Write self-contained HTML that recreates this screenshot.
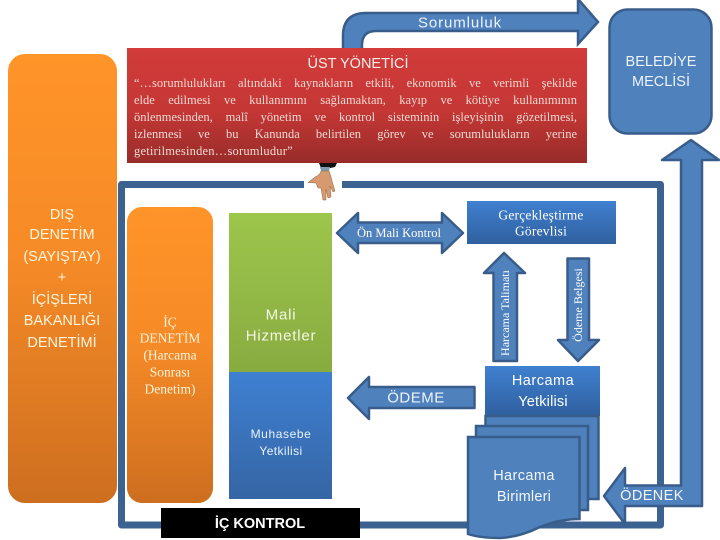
<!DOCTYPE html>
<html><head><meta charset="utf-8">
<style>
html,body{margin:0;padding:0;background:#fff}
#p{position:relative;width:720px;height:540px;overflow:hidden;background:#fff;font-family:"Liberation Sans",sans-serif}
svg{position:absolute;left:0;top:0}
.t{position:absolute;white-space:nowrap;text-align:center;transform:translate(-50%,-50%);color:#fff;line-height:1}
.c{color:#fff4dc}
.s{font-family:"Liberation Serif",serif}
.j{position:absolute;left:134px;width:443px;font-family:"Liberation Serif",serif;font-size:12.5px;line-height:17px;color:#f0d8d2;text-align:justify;text-align-last:justify;white-space:nowrap}
.v{position:absolute;white-space:nowrap;font-family:"Liberation Serif",serif;font-size:12px;color:#fff;line-height:1;transform:translate(-50%,-50%) rotate(-90deg)}
</style></head><body><div id="p">
<svg width="720" height="540" viewBox="0 0 720 540">
<defs>
<linearGradient id="r" x1="0" y1="0" x2="0" y2="1"><stop offset="0" stop-color="#d23b3a"/><stop offset=".55" stop-color="#c43735"/><stop offset="1" stop-color="#982c2a"/></linearGradient>
<linearGradient id="o" x1="0" y1="0" x2="0" y2="1"><stop offset="0" stop-color="#ff9429"/><stop offset=".45" stop-color="#f68b27"/><stop offset="1" stop-color="#cd6e1f"/></linearGradient>
<linearGradient id="g" x1="0" y1="0" x2="0" y2="1"><stop offset="0" stop-color="#9dc64c"/><stop offset="1" stop-color="#88ab40"/></linearGradient>
<linearGradient id="b" x1="0" y1="0" x2="0" y2="1"><stop offset="0" stop-color="#3f80d2"/><stop offset="1" stop-color="#3565a4"/></linearGradient>
<linearGradient id="bb" x1="0" y1="0" x2="0" y2="1"><stop offset="0" stop-color="#3f80d0"/><stop offset="1" stop-color="#30609f"/></linearGradient>
</defs>

<!-- frame -->
<path d="M304 184.500H121.500V525H660.500V184.500H342" fill="none" stroke="#3c6291" stroke-width="7" stroke-linejoin="round"/>

<!-- Sorumluluk bent arrow -->
<path d="M343 50V36Q343 13 366 13H578V-1L598 22L578 44V31H376Q362 31 362 45V50Z" fill="#4f81bd" stroke="#385d8a" stroke-width="2.500"/>

<!-- red box -->
<rect x="127" y="48" width="460" height="115" fill="url(#r)"/>

<!-- Belediye -->
<rect x="609.500" y="9.500" width="102" height="124" rx="18" fill="#4f81bd" stroke="#385d8a" stroke-width="2.500"/>

<!-- orange -->
<rect x="8" y="54" width="109" height="449" rx="17" fill="url(#o)"/>
<rect x="127" y="207" width="86" height="296" rx="15" fill="url(#o)"/>

<!-- green / blue -->
<rect x="229" y="213" width="103" height="160" fill="url(#g)"/>
<rect x="229" y="372" width="103" height="127" fill="url(#b)"/>

<!-- black -->
<rect x="161" y="508" width="199" height="30" fill="#000"/>

<!-- Ön Mali arrow -->
<path d="M337 233L358 213V222.500H442V213L463 233L442 253V243H358V253Z" fill="#4f81bd" stroke="#385d8a" stroke-width="2.500" stroke-linejoin="round"/>

<!-- Gerçekleştirme -->
<rect x="467" y="201" width="149" height="43" fill="url(#bb)"/>

<!-- Harcama Talimatı -->
<path d="M504 253L525 273H517V361H493.500V273H484Z" fill="#4f81bd" stroke="#385d8a" stroke-width="2.500" stroke-linejoin="round"/>
<!-- Ödeme Belgesi -->
<path d="M567.500 258.500H589V340H599L578 361L558 340H567.500Z" fill="#4f81bd" stroke="#385d8a" stroke-width="2.500" stroke-linejoin="round"/>

<!-- ÖDEME arrow -->
<path d="M348 398L369 377V387H474.500V408H369V419Z" fill="#4f81bd" stroke="#385d8a" stroke-width="2.500" stroke-linejoin="round"/>

<!-- Harcama Yetkilisi + docs -->
<rect x="485" y="366" width="115" height="50" fill="url(#bb)"/>
<rect x="485.500" y="416" width="113" height="83" fill="#4f81bd" stroke="#385d8a" stroke-width="2.500"/>
<rect x="476" y="426" width="112" height="84" fill="#4f81bd" stroke="#385d8a" stroke-width="2.500"/>
<path d="M468 437H579.500V519Q560 519 540 527Q520 537 500 538Q480 538 468 534Z" fill="#4f81bd" stroke="#385d8a" stroke-width="2.500"/>

<!-- ÖDENEK / up arrow -->
<path d="M691 140L719 160H702V506H625V524L604 496L625 468V485.500H681V160H662Z" fill="#4f81bd" stroke="#385d8a" stroke-width="2.500" stroke-linejoin="round"/>

<!-- hand -->
<path d="M319 163H337L335 167Q328 169 321 168Z" fill="#111"/>
<path d="M320 167H330L329 171H321Z" fill="#7d9bb0"/>
<path d="M321 171H329Q331 176 332 181L335 191L333 192L330 186L331 197L328 198L326 189L326 200L323 200L321 188L318 188L316 183L308 182.500L315 177Q320 175 321 171Z" fill="#d79a6e" stroke="#8f5f3f" stroke-width=".5"/>
</svg>

<div class="t" style="left:460px;top:23px;font-size:15px;letter-spacing:.9px;color:#eef3fa">Sorumluluk</div>
<div class="t" style="left:358px;top:64px;font-size:14.500px;color:#f7eeea">ÜST YÖNETİCİ</div>

<div class="j" style="top:75px">“…sorumlulukları altındaki kaynakların etkili, ekonomik ve verimli şekilde</div>
<div class="j" style="top:92px">elde edilmesi ve kullanımını sağlamaktan, kayıp ve kötüye kullanımının</div>
<div class="j" style="top:109px">önlenmesinden, malî yönetim ve kontrol sisteminin işleyişinin gözetilmesi,</div>
<div class="j" style="top:126px">izlenmesi ve bu Kanunda belirtilen görev ve sorumlulukların yerine</div>
<div class="j" style="top:143px;text-align-last:left;letter-spacing:.2px">getirilmesinden…sorumludur”</div>

<div class="t" style="left:661px;top:62px;font-size:14.500px;color:#eef3fa">BELEDİYE</div>
<div class="t" style="left:661px;top:82px;font-size:14.500px;color:#eef3fa">MECLİSİ</div>

<div class="t c" style="left:62px;top:215px;font-size:14.500px">DIŞ</div>
<div class="t c" style="left:62px;top:235px;font-size:14.500px">DENETİM</div>
<div class="t c" style="left:62px;top:257px;font-size:14.500px">(SAYIŞTAY)</div>
<div class="t c" style="left:62px;top:278px;font-size:14.500px">+</div>
<div class="t c" style="left:62px;top:300px;font-size:14.500px">İÇİŞLERİ</div>
<div class="t c" style="left:62px;top:321px;font-size:14.500px">BAKANLIĞI</div>
<div class="t c" style="left:62px;top:343px;font-size:14.500px">DENETİMİ</div>

<div class="t c s" style="left:170px;top:322px;font-size:13.500px">İÇ</div>
<div class="t c s" style="left:170px;top:338px;font-size:13.500px">DENETİM</div>
<div class="t c s" style="left:170px;top:355px;font-size:13.500px">(Harcama</div>
<div class="t c s" style="left:170px;top:372px;font-size:13.500px">Sonrası</div>
<div class="t c s" style="left:170px;top:389px;font-size:13.500px">Denetim)</div>

<div class="t" style="left:281px;top:315px;font-size:15px;letter-spacing:.8px;color:#f4f8e8">Mali</div>
<div class="t" style="left:281px;top:336px;font-size:15px;letter-spacing:.8px;color:#f4f8e8">Hizmetler</div>

<div class="t" style="left:281px;top:434px;font-size:12px;letter-spacing:.6px;color:#eaf2fb">Muhasebe</div>
<div class="t" style="left:281px;top:451px;font-size:12px;letter-spacing:.4px;color:#eaf2fb">Yetkilisi</div>

<div class="t" style="left:260px;top:524px;font-size:14.500px;font-weight:bold">İÇ KONTROL</div>

<div class="t s" style="left:399px;top:233px;font-size:12.500px">Ön Mali Kontrol</div>
<div class="t s" style="left:541px;top:215px;font-size:13.500px;letter-spacing:.2px">Gerçekleştirme</div>
<div class="t s" style="left:541px;top:231px;font-size:13.500px;letter-spacing:.2px">Görevlisi</div>

<div class="v" style="left:505px;top:313px">Harcama Talimatı</div>
<div class="v" style="left:578px;top:305px">Ödeme Belgesi</div>

<div class="t" style="left:416px;top:398px;font-size:15px;letter-spacing:.5px;color:#eef3fa">ÖDEME</div>
<div class="t" style="left:543px;top:381px;font-size:14.500px;letter-spacing:.5px">Harcama</div>
<div class="t" style="left:543px;top:402px;font-size:14.500px;letter-spacing:.2px">Yetkilisi</div>
<div class="t" style="left:524px;top:476px;font-size:14.500px;letter-spacing:.4px;color:#f2f6fb">Harcama</div>
<div class="t" style="left:524px;top:497px;font-size:14.500px;letter-spacing:.2px;color:#f2f6fb">Birimleri</div>
<div class="t" style="left:652px;top:496px;font-size:14.500px;letter-spacing:.4px;color:#f2f6fb">ÖDENEK</div>
</div></body></html>
